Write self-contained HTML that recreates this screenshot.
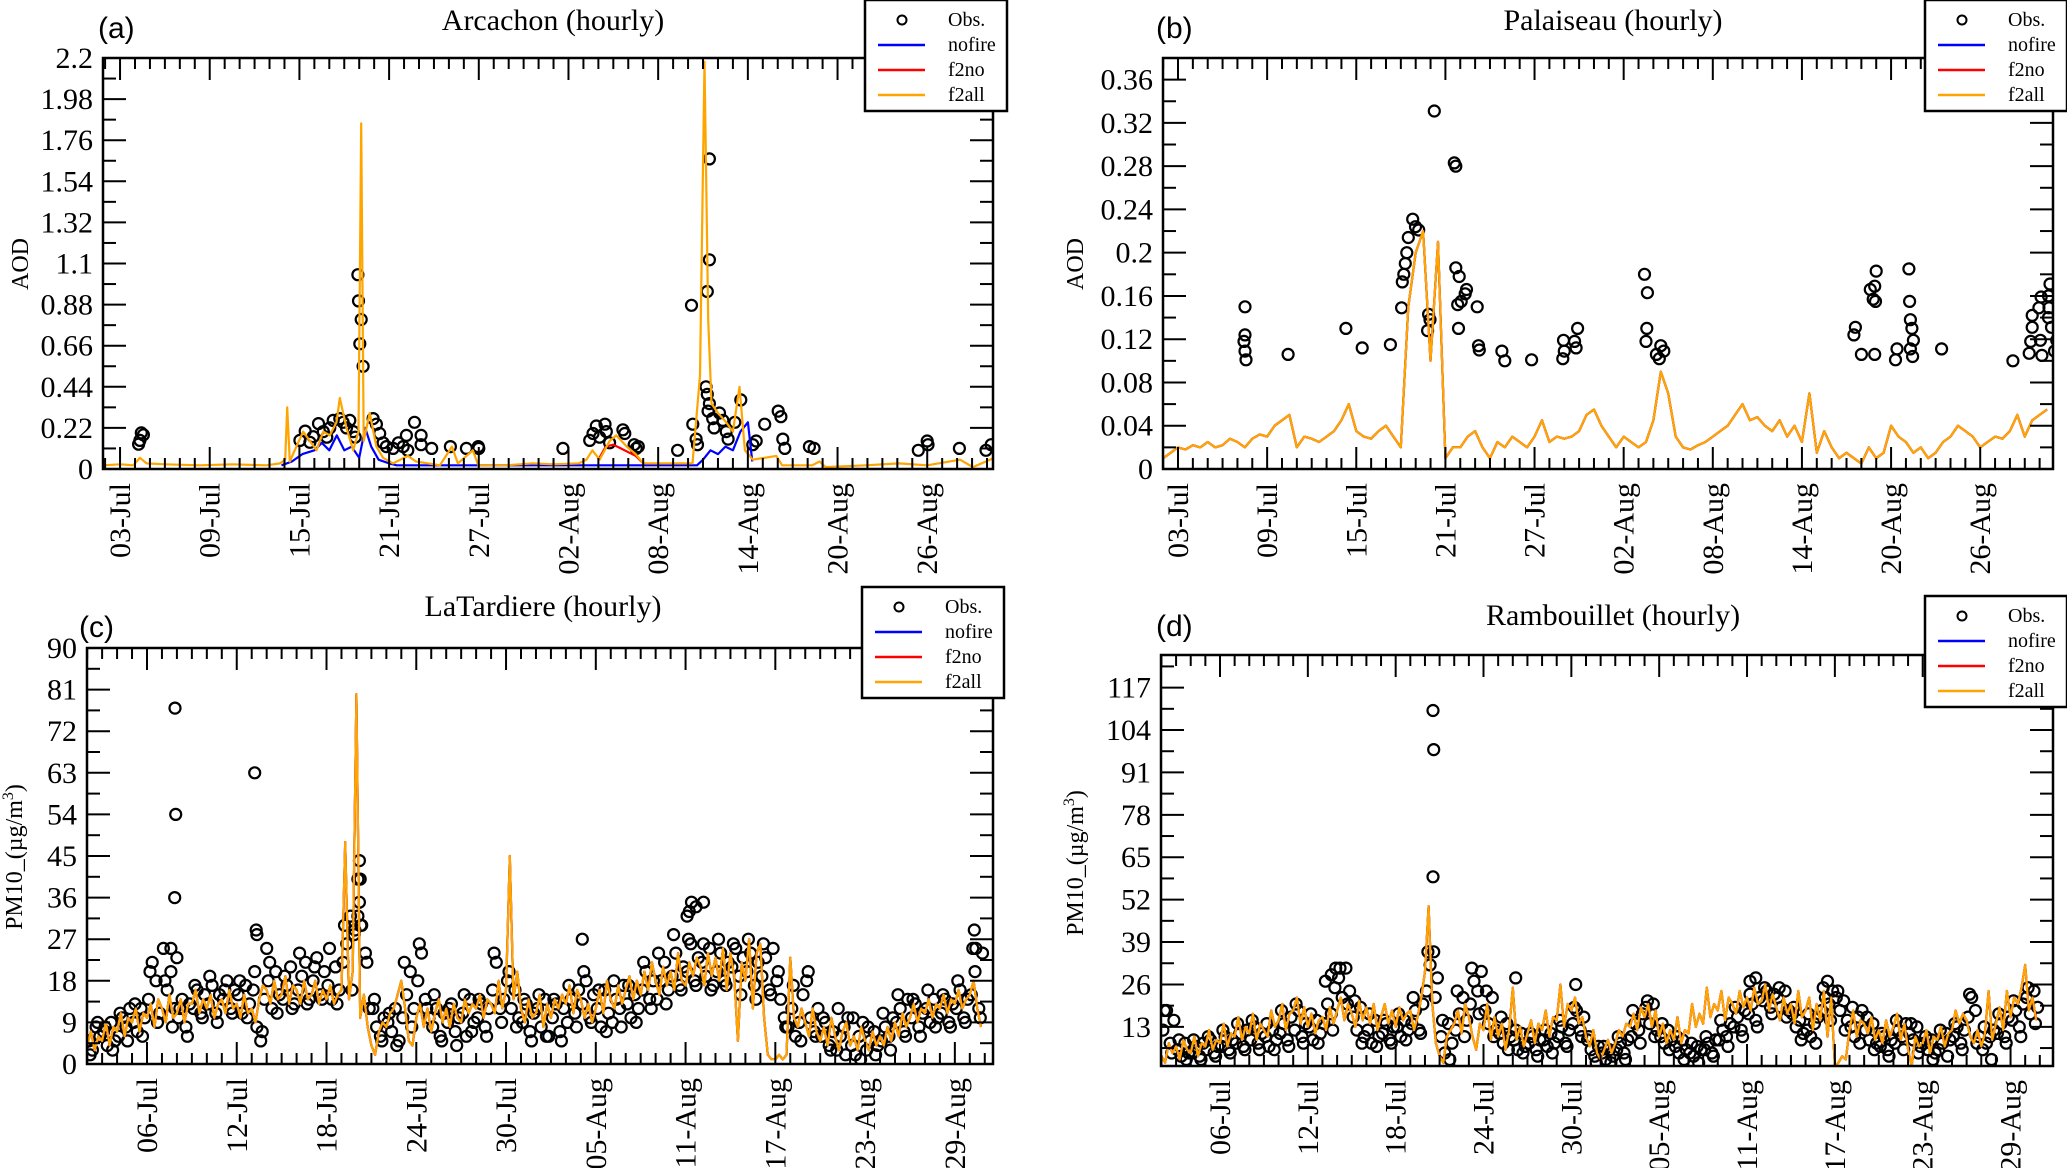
<!DOCTYPE html>
<html><head><meta charset="utf-8">
<style>
html,body{margin:0;padding:0;background:#fff;}
svg{display:block;font-family:"Liberation Serif",serif;}
</style></head>
<body>
<svg id="fig" width="2067" height="1168" viewBox="0 0 2067 1168" xmlns="http://www.w3.org/2000/svg"></svg>
<script>
// ===== Panel (a) Arcachon AOD =====
const aF2allT=[0.88,2.0,2.89,3.33,3.78,5.0,7.34,9.5,11.8,12.7,13.05,13.18,13.36,13.8,14.25,14.7,15.14,15.6,16.03,16.48,16.7,17.15,17.6,17.95,18.13,18.3,18.7,19.15,19.6,20.27,21.25,21.8,23.4,24.2,24.6,25.6,25.97,27.84,29.6,31.0,32.7,33.2,33.6,34.08,34.75,35.2,35.9,36.5,37.0,38.5,40.3,40.8,41.1,41.35,41.57,42.0,42.55,43.0,43.44,43.8,44.33,45.9,46.3,48.3,48.8,49.2,51.9,54.1,56.0,58.2,59.05,60.5];
const aF2allV=[0.02,0.025,0.02,0.06,0.03,0.025,0.02,0.025,0.02,0.03,0.05,0.33,0.04,0.12,0.2,0.15,0.1,0.2,0.18,0.25,0.38,0.22,0.1,0.2,1.85,0.15,0.3,0.12,0.06,0.03,0.07,0.04,0.02,0.12,0.03,0.1,0.02,0.02,0.03,0.025,0.03,0.05,0.1,0.05,0.15,0.18,0.12,0.08,0.03,0.03,0.03,0.5,2.18,0.8,0.35,0.3,0.25,0.2,0.44,0.1,0.05,0.07,0.02,0.02,0.04,0.01,0.02,0.03,0.02,0.05,0.01,0.06];
const aNofireT=[12.8,13.5,14.2,15.0,15.5,16.0,16.5,17.0,17.5,18.0,18.4,18.8,19.3,20.0,20.5,40.6,41.0,41.5,42.0,42.5,43.0,43.5,44.0,44.3];
const aNofireV=[0.02,0.04,0.08,0.1,0.14,0.1,0.18,0.1,0.12,0.06,0.22,0.12,0.05,0.03,0.02,0.02,0.05,0.1,0.08,0.12,0.1,0.2,0.25,0.04];
const aF2noT=[34.0,34.5,35.0,35.5,36.0,36.5,37.0];
const aF2noV=[0.05,0.12,0.13,0.11,0.09,0.07,0.03];
const aObsT=[3.33,3.42,3.24,3.56,14.03,14.39,14.7,14.92,15.28,15.6,15.83,16.03,16.26,16.7,16.92,17.15,17.37,17.6,17.73,17.91,17.95,18.13,18.04,18.26,18.93,19.15,19.37,19.6,19.82,20.27,20.62,20.94,21.16,21.25,21.7,22.14,22.14,22.85,24.1,25.17,25.97,26.0,31.63,33.42,33.64,33.86,34.08,34.44,34.53,34.75,35.64,35.77,36.4,36.53,36.67,39.3,40.23,40.32,40.54,40.63,41.2,41.29,41.43,41.34,41.43,41.29,41.43,41.65,41.74,42.1,42.33,42.55,42.68,43.13,43.53,44.33,44.56,45.13,46.03,46.21,46.34,46.47,48.12,48.43,55.4,56.0,56.05,58.15,59.93,60.28];
const aObsV=[0.153,0.193,0.133,0.183,0.153,0.203,0.143,0.173,0.243,0.2,0.17,0.22,0.26,0.27,0.25,0.22,0.26,0.2,0.17,1.04,0.9,0.8,0.67,0.55,0.27,0.24,0.19,0.14,0.12,0.11,0.14,0.12,0.18,0.1,0.25,0.18,0.13,0.11,0.12,0.11,0.12,0.11,0.11,0.153,0.19,0.23,0.17,0.24,0.2,0.14,0.21,0.19,0.13,0.11,0.12,0.1,0.876,0.24,0.16,0.13,0.44,0.4,0.35,0.31,1.12,0.95,1.66,0.27,0.22,0.3,0.26,0.2,0.16,0.25,0.37,0.13,0.15,0.24,0.31,0.28,0.16,0.11,0.12,0.11,0.1,0.15,0.13,0.11,0.1,0.13];
const aYTickVals=[0,0.22,0.44,0.66,0.88,1.1,1.32,1.54,1.76,1.98,2.2];
const aYTickLabels=["0","0.22","0.44","0.66","0.88","1.1","1.32","1.54","1.76","1.98","2.2"];

// ===== Panel (b) Palaiseau AOD (2 samples per day, starting day 1) =====
const bLineV=[0.01,0.015,0.02,0.018,0.022,0.02,0.025,0.02,0.022,0.028,0.025,0.02,0.028,0.032,0.03,0.04,0.045,0.05,0.02,0.03,0.028,0.025,0.03,0.035,0.045,0.06,0.035,0.03,0.028,0.035,0.04,0.03,0.02,0.15,0.2,0.22,0.1,0.21,0.01,0.02,0.02,0.03,0.035,0.02,0.01,0.025,0.02,0.03,0.025,0.02,0.03,0.045,0.025,0.03,0.028,0.03,0.035,0.05,0.055,0.04,0.03,0.02,0.03,0.025,0.02,0.025,0.045,0.09,0.07,0.03,0.02,0.018,0.022,0.025,0.03,0.035,0.04,0.05,0.06,0.045,0.048,0.04,0.035,0.045,0.03,0.04,0.025,0.07,0.015,0.035,0.02,0.01,0.015,0.01,0.005,0.02,0.01,0.015,0.04,0.03,0.025,0.015,0.02,0.01,0.015,0.025,0.03,0.04,0.035,0.03,0.02,0.025,0.03,0.028,0.035,0.05,0.03,0.045,0.05,0.055];
const bObsT=[6.51,6.51,6.44,6.51,6.58,9.41,13.3,14.4,16.3,17.05,17.1,17.2,17.3,17.4,17.5,17.8,17.99,18.2,18.8,18.96,18.87,19.25,20.6,20.7,20.7,20.93,21.06,20.83,20.88,21.42,21.33,22.14,22.23,22.28,23.8,24.0,25.8,27.9,28.0,27.95,28.7,28.9,28.8,33.4,33.6,33.56,33.5,34.2,34.5,34.4,34.7,47.6,47.5,48.0,48.6,48.8,49.0,48.9,48.95,48.9,50.4,50.3,51.2,51.25,51.3,51.4,51.5,51.3,51.45,53.4,58.2,59.3,59.4,59.5,59.5,59.95,60.1,60.05,60.15,60.8,61.0,61.15,61.3,61.6,61.9,62.05,62.18,62.05,60.6,60.7,60.63,60.6];
const bObsV=[0.15,0.124,0.118,0.109,0.101,0.106,0.13,0.112,0.115,0.149,0.173,0.18,0.19,0.2,0.214,0.231,0.224,0.221,0.128,0.138,0.143,0.331,0.283,0.28,0.186,0.178,0.155,0.152,0.13,0.166,0.162,0.15,0.114,0.11,0.109,0.1,0.101,0.102,0.109,0.119,0.118,0.13,0.112,0.18,0.163,0.13,0.118,0.106,0.114,0.102,0.109,0.131,0.124,0.106,0.166,0.157,0.183,0.169,0.155,0.106,0.111,0.101,0.185,0.155,0.138,0.13,0.119,0.111,0.104,0.111,0.1,0.107,0.118,0.131,0.142,0.149,0.159,0.119,0.105,0.131,0.109,0.119,0.131,0.124,0.111,0.106,0.147,0.131,0.16,0.171,0.149,0.14];
const bYTickVals=[0,0.04,0.08,0.12,0.16,0.2,0.24,0.28,0.32,0.36];
const bYTickLabels=["0","0.04","0.08","0.12","0.16","0.2","0.24","0.28","0.32","0.36"];

// ===== Panel (c) LaTardiere PM10 (4 samples per day, starting day 1) =====
const cObsV=[5,3,8,6,7,4,9,5,6,10,8,12,9,7,12,10,14,22,18,11,25,16,20,12,10,14,8,13,12,16,11,15,13,17,11,15,14,18,12,16,15,11,17,13,16,8,5,14,18,12,20,15,14,17,21,13,16,19,22,14,18,23,15,20,17,14,21,16,22,26,32,28,40,30,24,12,12,8,6,10,9,7,12,5,10,15,20,12,18,24,14,10,8,12,6,11,9,13,7,10,11,6,14,9,10,13,8,12,16,22,12,14,18,12,16,10,9,13,7,11,12,8,14,6,10,13,7,12,9,14,11,16,13,18,10,15,12,8,16,11,9,14,12,17,13,10,15,12,16,20,14,18,14,18,22,16,19,24,17,21,20,26,18,23,22,19,25,17,20,24,18,22,21,25,19,23,20,24,17,22,19,23,16,25,18,14,10,8,12,6,9,15,18,10,7,12,6,9,4,7,3,6,8,10,4,2,6,9,3,5,7,4,5,8,6,10,9,12,7,14,10,13,8,11,12,9,14,10,11,14,9,13,12,16,10,14,15,20,12,24];
const cObs2V=[2,9,8,3,11,5,13,6,20,9,18,8,12,6,17,10,19,9,16,11,18,10,20,7,22,11,19,12,24,13,21,14,25,13,30,16,35,22,14,5,11,4,22,8,26,12,15,5,12,4,15,7,14,6,24,9,20,8,14,5,15,6,14,5,17,8,20,9,16,7,18,8,17,9,22,12,24,13,28,16,27,17,26,16,27,17,26,15,27,14,26,15,20,8,17,5,20,6,10,3,12,2,10,1,8,2,11,3,15,6,14,6,16,8,15,8,18,9,25,10];
const cLineV=[4,7,3,6,5,9,4,8,7,11,6,10,9,12,7,11,10,13,8,14,12,9,15,10,11,14,9,13,13,16,11,14,12,15,10,13,14,11,16,12,13,10,15,11,12,9,14,17,16,13,18,14,15,19,13,17,16,13,18,14,15,18,13,16,14,17,13,15,16,48,14,20,80,10,15,8,4,2,7,9,8,11,12,15,18,12,5,4,10,13,8,12,7,11,14,9,12,8,13,10,9,14,11,13,12,15,10,14,13,11,18,12,16,45,14,20,12,9,14,10,11,15,8,13,10,14,12,15,13,17,11,16,14,10,13,9,12,16,11,18,14,12,17,13,16,19,14,18,15,20,16,22,18,15,21,17,20,16,24,18,17,22,19,23,21,17,24,19,23,18,25,16,24,19,5,22,18,27,12,24,26,10,2,1,1,2,1,2,23,10,8,12,9,6,12,7,5,8,4,10,6,3,7,9,4,6,3,8,5,3,7,4,6,4,8,5,9,6,11,8,10,13,9,12,11,14,10,13,12,15,11,14,13,16,12,14,15,18,12,8];
const cOutT=[6.87,6.92,6.85,6.6,7.0,12.2,12.3,12.35,13.0,19.2,19.25,19.1,19.3,18.9,34.1,41.1,41.4,41.7,42.2,41.25,60.3,60.4];
const cOutV=[77,54,36,25,23,63,29,28,25,44,40,32,30,29,27,32,35,34,35,33,29,25];
const cYTickVals=[0,9,18,27,36,45,54,63,72,81,90];
const cYTickLabels=["0","9","18","27","36","45","54","63","72","81","90"];

// ===== Panel (d) Rambouillet PM10 (4 samples per day, starting day 1) =====
const dObsV=[12,18,8,15,6,4,8,5,5,7,4,8,6,9,5,7,7,10,6,9,8,11,7,12,9,13,8,11,10,7,12,9,11,14,9,16,12,18,10,14,13,9,15,11,14,20,17,25,28,22,31,24,16,12,19,10,12,8,15,10,11,14,9,13,13,10,15,12,14,18,12,20,24,32,36,28,10,5,14,8,12,17,22,15,20,27,24,30,18,14,22,12,11,8,14,10,9,6,11,7,8,10,6,9,9,7,11,8,10,13,8,12,14,18,12,16,9,6,4,7,5,3,6,4,6,8,5,9,10,14,12,17,19,14,20,12,10,8,12,9,7,5,9,6,5,4,7,6,6,8,5,9,9,12,10,14,13,16,12,18,17,20,15,22,21,24,19,23,22,19,24,18,17,13,15,11,12,10,14,16,18,22,20,24,22,18,21,15,13,10,16,18,12,9,14,8,7,10,6,9,8,12,10,14,11,9,13,7,8,6,9,5,6,8,11,9,10,13,8,12,16,22,18,10,6,8,10,12,11,14,10,16,15,18,13,20,22,17,24,19];
const dObs2V=[18,5,9,3,9,3,10,4,12,5,14,6,15,6,14,6,18,7,20,8,17,8,27,12,31,20,21,8,17,7,15,8,17,9,22,11,36,22,15,3,24,10,31,17,24,10,16,6,12,5,11,4,12,5,15,7,19,10,10,2,7,2,10,3,18,8,21,10,14,6,10,3,8,2,10,4,15,7,19,10,23,13,25,17,25,16,19,9,17,8,25,15,24,12,19,8,16,6,11,4,15,6,14,5,10,3,12,4,14,6,23,8,13,3,17,8,21,10,25,14];
const dLineV=[4,2,8,5,7,3,9,6,5,10,4,8,7,12,6,9,8,14,7,11,10,16,9,13,11,17,9,14,12,10,18,13,15,20,12,17,18,22,14,19,13,17,11,15,16,12,19,14,18,22,15,20,17,13,21,15,19,14,20,12,16,20,14,18,13,19,15,17,18,12,16,22,30,50,20,8,4,2,10,12,14,18,11,20,16,10,6,14,12,20,9,16,10,14,6,12,25,9,13,7,11,15,8,14,12,18,10,16,15,26,13,20,18,22,14,16,10,7,12,5,3,6,9,5,8,12,10,14,13,17,12,19,16,20,13,18,10,14,8,12,9,16,8,12,11,20,13,17,14,25,16,20,18,24,15,22,20,17,24,19,22,18,25,20,21,26,18,23,19,15,22,17,20,14,24,16,18,22,12,20,15,24,10,22,1,2,4,3,12,18,10,15,14,11,16,9,12,8,15,10,13,17,9,14,6,1,10,7,8,12,5,10,9,13,7,11,12,18,14,17,15,10,8,12,7,11,24,9,14,19,12,24,16,22,20,25,32,18,22,15];
const dOutT=[19.55,19.6,19.55,25.2,29.3,41.2,41.6,46.5,12.9,12.6];
const dOutV=[110,98,59,28,26,27,28,27,31,29];
const dYTickVals=[13,26,39,52,65,78,91,104,117];
const dYTickLabels=["13","26","39","52","65","78","91","104","117"];

// ===== layout (not data) =====
const svg=document.getElementById('fig');
const NS='http://www.w3.org/2000/svg';
function mk(tag,attrs,parent){const e=document.createElementNS(NS,tag);for(const k in attrs)e.setAttribute(k,attrs[k]);(parent||svg).appendChild(e);return e;}
function pad(n){return (n<10?'0':'')+n;}
function dateLabel(d){const day=d+1;return day<=31?pad(day)+'-Jul':pad(day-31)+'-Aug';}
function seqT(start,step,n){const t=[];for(let i=0;i<n;i++)t.push(start+i*step);return t;}

function drawPanel(P){
  const g=mk('g',{});
  
  
  const xs=v=>P.L+(v-P.x0)/(P.x1-P.x0)*(P.R-P.L);
  const ys=v=>P.B-(v-P.y0)/(P.y1-P.y0)*(P.B-P.T);
  const cid='clip-'+P.name;
  const cp=mk('clipPath',{id:cid},g);
  mk('rect',{x:P.L,y:P.T,width:P.R-P.L,height:P.B-P.T},cp);
  function line(T,V,color,nm){
    let d='';
    for(let i=0;i<T.length;i++){d+=(i?'L':'M')+xs(T[i]).toFixed(1)+','+ys(V[i]).toFixed(1);}
    const p=mk('path',{d:d,fill:'none',stroke:color,'stroke-width':2.2,'stroke-linejoin':'round','clip-path':'url(#'+cid+')'},g);
    
    
  }
  function obs(T,V,r,nm){
    const og=mk('g',{fill:'none',stroke:'#000','stroke-width':2.2,'clip-path':'url(#'+cid+')'},g);
    
    
    for(let i=0;i<T.length;i++){
      const c=mk('circle',{cx:xs(T[i]).toFixed(1),cy:ys(V[i]).toFixed(1),r:r},og);
      
      
    }
  }
  P.obs.forEach(o=>obs(o[0],o[1],P.r,'obs-markers'));
  P.lines.forEach(l=>line(l[0],l[1],l[2],l[3]));
  const fr=mk('rect',{x:P.L,y:P.T,width:P.R-P.L,height:P.B-P.T,fill:'none',stroke:'#000','stroke-width':2.5},g);
  
  
  const tg=mk('g',{stroke:'#000','stroke-width':2},g);
  
  
  for(let d=Math.ceil(P.x0);d<=P.x1;d++){
    const x=xs(d);const major=((d-P.xMajor)%6===0)&&d>=P.xMajor;
    const len=major?22:11;
    mk('line',{x1:x,y1:P.B,x2:x,y2:P.B-len},tg);
    mk('line',{x1:x,y1:P.T,x2:x,y2:P.T+len},tg);
    if(major){
      const t=mk('text',{x:0,y:0,'font-size':30,'text-anchor':'end',transform:'translate('+(x+10)+','+(P.B+14)+') rotate(-90)',fill:'#000',stroke:'none'},g);
      t.textContent=dateLabel(d);
      
      
    }
  }
  const yg=mk('g',{stroke:'#000','stroke-width':2},g);
  
  
  const step=P.yTicks[1]-P.yTicks[0];
  for(let k=-1;k<=2*P.yTicks.length;k++){
    const v=P.yTicks[0]+k*step/2;
    if(v<P.y0-1e-9||v>P.y1+1e-9)continue;
    const y=ys(v);const len=(k%2===0)?23:13;
    mk('line',{x1:P.L,y1:y,x2:P.L+len,y2:y},yg);
    mk('line',{x1:P.R,y1:y,x2:P.R-len,y2:y},yg);
  }
  P.yTicks.forEach((v,i)=>{
    const t=mk('text',{x:P.L-10,y:ys(v)+10,'font-size':30,'text-anchor':'end',fill:'#000'},g);
    t.textContent=P.yLabels[i];
    
    
  });
  const yt=mk('text',{x:0,y:0,'font-size':24,'text-anchor':'middle',transform:'translate('+P.ytx+','+P.yty+') rotate(-90)',fill:'#000'},g);
  
  
  if(P.ytitle==='PM'){yt.innerHTML='PM10_(µg/m<tspan font-size="16" dy="-9">3</tspan><tspan dy="9">)</tspan>';}
  else yt.textContent=P.ytitle;
  const tt=mk('text',{x:P.tx,y:P.ty,'font-size':30,'text-anchor':'middle',fill:'#000'},g);
  tt.textContent=P.title;
  
  
  const pl=mk('text',{x:P.lx,y:P.ly,'font-size':30,'font-family':'Liberation Sans, sans-serif',fill:'#000'},g);
  pl.textContent=P.letter;
  
  
  const lg=mk('g',{},g);
  
  
  const bx=P.lgx,by=P.lgy;
  mk('rect',{x:bx,y:by,width:142,height:111,fill:'#fff',stroke:'#000','stroke-width':2.5},lg);
  const items=[['Obs.',null],['nofire','#0000ff'],['f2no','#ff0000'],['f2all','#ffa500']];
  items.forEach((it,i)=>{
    const cy=by+20+i*25;
    const e=mk('g',{},lg);
    
    
    if(it[1]===null) mk('circle',{cx:bx+37,cy:cy,r:4.5,fill:'none',stroke:'#000','stroke-width':2},e);
    else mk('line',{x1:bx+13,y1:cy,x2:bx+60,y2:cy,stroke:it[1],'stroke-width':2.5},e);
    const t=mk('text',{x:bx+83,y:cy+6,'font-size':20,fill:'#000'},e);
    t.textContent=it[0];
  });
}

const bT=seqT(1,0.5,bLineV.length);
const cT=seqT(1,0.25,cLineV.length);
const cOT=seqT(1.1,0.25,cObsV.length);
const cO2T=seqT(1.2,0.5,cObs2V.length);
const dT=seqT(1,0.25,dLineV.length);
const dOT=seqT(1.1,0.25,dObsV.length);
const dO2T=seqT(1.2,0.5,dObs2V.length);

drawPanel({name:'panel-a-arcachon',L:103,R:993,T:58,B:469,x0:0.86,x1:60.4,y0:0,y1:2.2,xMajor:2,
  yTicks:aYTickVals,yLabels:aYTickLabels,r:5.5,
  obs:[[aObsT,aObsV]],
  lines:[[aNofireT,aNofireV,'#0000ff','nofire-line'],[aF2noT,aF2noV,'#ff0000','f2no-line'],[aF2allT,aF2allV,'#ffa500','f2all-line']],
  ytitle:'AOD',ytx:28,yty:264,title:'Arcachon (hourly)',tx:553,ty:30,letter:'(a)',lx:98,ly:38,lgx:865,lgy:0});
drawPanel({name:'panel-b-palaiseau',L:1163,R:2053,T:58,B:469,x0:0.99,x1:60.9,y0:0,y1:0.38,xMajor:2,
  yTicks:bYTickVals,yLabels:bYTickLabels,r:5.5,
  obs:[[bObsT,bObsV]],
  lines:[[bT,bLineV,'#0000ff','nofire-line'],[bT,bLineV,'#ff0000','f2no-line'],[bT,bLineV,'#ffa500','f2all-line']],
  ytitle:'AOD',ytx:1083,yty:264,title:'Palaiseau (hourly)',tx:1613,ty:30,letter:'(b)',lx:1156,ly:38,lgx:1925,lgy:0});
drawPanel({name:'panel-c-latardiere',L:87,R:993,T:648,B:1064,x0:0.99,x1:61.55,y0:0,y1:90,xMajor:5,
  yTicks:cYTickVals,yLabels:cYTickLabels,r:5.5,
  obs:[[cOT,cObsV],[cO2T,cObs2V],[cOutT,cOutV]],
  lines:[[cT,cLineV,'#0000ff','nofire-line'],[cT,cLineV,'#ff0000','f2no-line'],[cT,cLineV,'#ffa500','f2all-line']],
  ytitle:'PM',ytx:22,yty:857,title:'LaTardiere (hourly)',tx:543,ty:616,letter:'(c)',lx:79,ly:637,lgx:862,lgy:587});
drawPanel({name:'panel-d-rambouillet',L:1161,R:2053,T:655,B:1066,x0:0.97,x1:61.9,y0:1,y1:127,xMajor:5,
  yTicks:dYTickVals,yLabels:dYTickLabels,r:5.5,
  obs:[[dOT,dObsV],[dO2T,dObs2V],[dOutT,dOutV]],
  lines:[[dT,dLineV,'#0000ff','nofire-line'],[dT,dLineV,'#ff0000','f2no-line'],[dT,dLineV,'#ffa500','f2all-line']],
  ytitle:'PM',ytx:1083,yty:863,title:'Rambouillet (hourly)',tx:1613,ty:625,letter:'(d)',lx:1156,ly:636,lgx:1925,lgy:596});
</script>
</body></html>
